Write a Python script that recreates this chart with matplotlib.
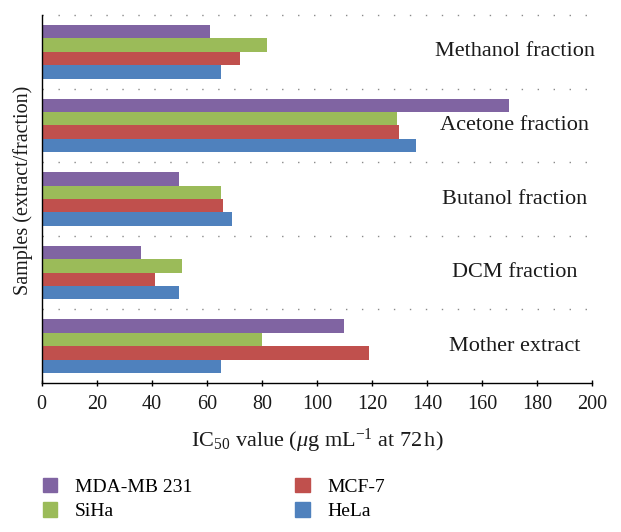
import matplotlib
matplotlib.use("Agg")
import matplotlib.pyplot as plt
from matplotlib.patches import Patch
import numpy as np

plt.rcParams['font.family'] = ['Liberation Serif', 'DejaVu Serif']
plt.rcParams['mathtext.fontset'] = 'custom'
plt.rcParams['mathtext.rm'] = 'Liberation Serif'
plt.rcParams['mathtext.it'] = 'Liberation Serif:italic'

# categories bottom -> top
categories = ["Mother extract", "DCM fraction", "Butanol fraction",
              "Acetone fraction", "Methanol fraction"]
hela = [65, 50, 69, 136, 65]
mcf7 = [119, 41, 66, 130, 72]
siha = [80, 51, 65, 129, 82]
mda = [110, 36, 50, 170, 61]

series_names = ["HeLa", "MCF-7", "SiHa", "MDA-MB 231"]
series_vals = [hela, mcf7, siha, mda]
colors = ["#4F81BD", "#C0504D", "#9BBB59", "#8064A2"]
xticks = [0, 20, 40, 60, 80, 100, 120, 140, 160, 180, 200]

W, H = 621, 532
fig = plt.figure(figsize=(W / 100, H / 100), dpi=100)
ax = fig.add_axes([41.7 / W, 1 - 383 / H, (592 - 41.7) / W, (383 - 15) / H])

y = np.arange(len(categories))
h = 0.182
offsets = [-1.5 * h, -0.5 * h, 0.5 * h, 1.5 * h]
for vals, off, c, name in zip(series_vals, offsets, colors, series_names):
    ax.barh(y + off, vals, height=h, color=c, label=name, zorder=2)

ax.set_xlim(0, 200)
ax.set_ylim(-0.5, len(categories) - 0.5)
for g in np.arange(len(categories)) + 0.5:
    ax.axhline(g, color="#8a8a8a", lw=1.0, linestyle=(0, (1, 10.5)), zorder=1,
               clip_on=False)

for yi, cat in zip(y, categories):
    ax.text(172.0, yi + 0.0, cat, ha="center", va="center", fontsize=16,
            color="#1a1a1a")

ax.spines["top"].set_visible(False)
ax.spines["right"].set_visible(False)
ax.spines["left"].set_linewidth(1.0)
ax.spines["bottom"].set_linewidth(1.0)
ax.set_yticks([])
ax.set_xticks(xticks)
ax.set_xticklabels([str(t) for t in xticks], fontsize=14.5, color="#1a1a1a")
ax.tick_params(axis="x", direction="inout", length=5, width=1.0, pad=6)

ax.set_xlabel(r"IC$_{50}$ value ($\mu$g mL$^{-1}$ at 72$\,$h)", fontsize=16,
              color="#1a1a1a")
ax.xaxis.set_label_coords(0.5, -0.118)
ax.set_ylabel("Samples (extract/fraction)", fontsize=14.5, color="#1a1a1a")
ax.yaxis.set_label_coords(-0.016, 0.524)

handles = [Patch(color=colors[3]), Patch(color=colors[2]),
           Patch(color=colors[1]), Patch(color=colors[0])]
labels = [series_names[3], series_names[2], series_names[1], series_names[0]]
fig.legend(handles, labels, ncol=2, frameon=False, fontsize=14,
           loc="upper left", bbox_to_anchor=(35 / W, 1 - 470 / H),
           handlelength=0.75, handleheight=0.75, handletextpad=0.9,
           columnspacing=5.3, labelspacing=0.35, borderaxespad=0)

fig.savefig("out.png", dpi=100)
